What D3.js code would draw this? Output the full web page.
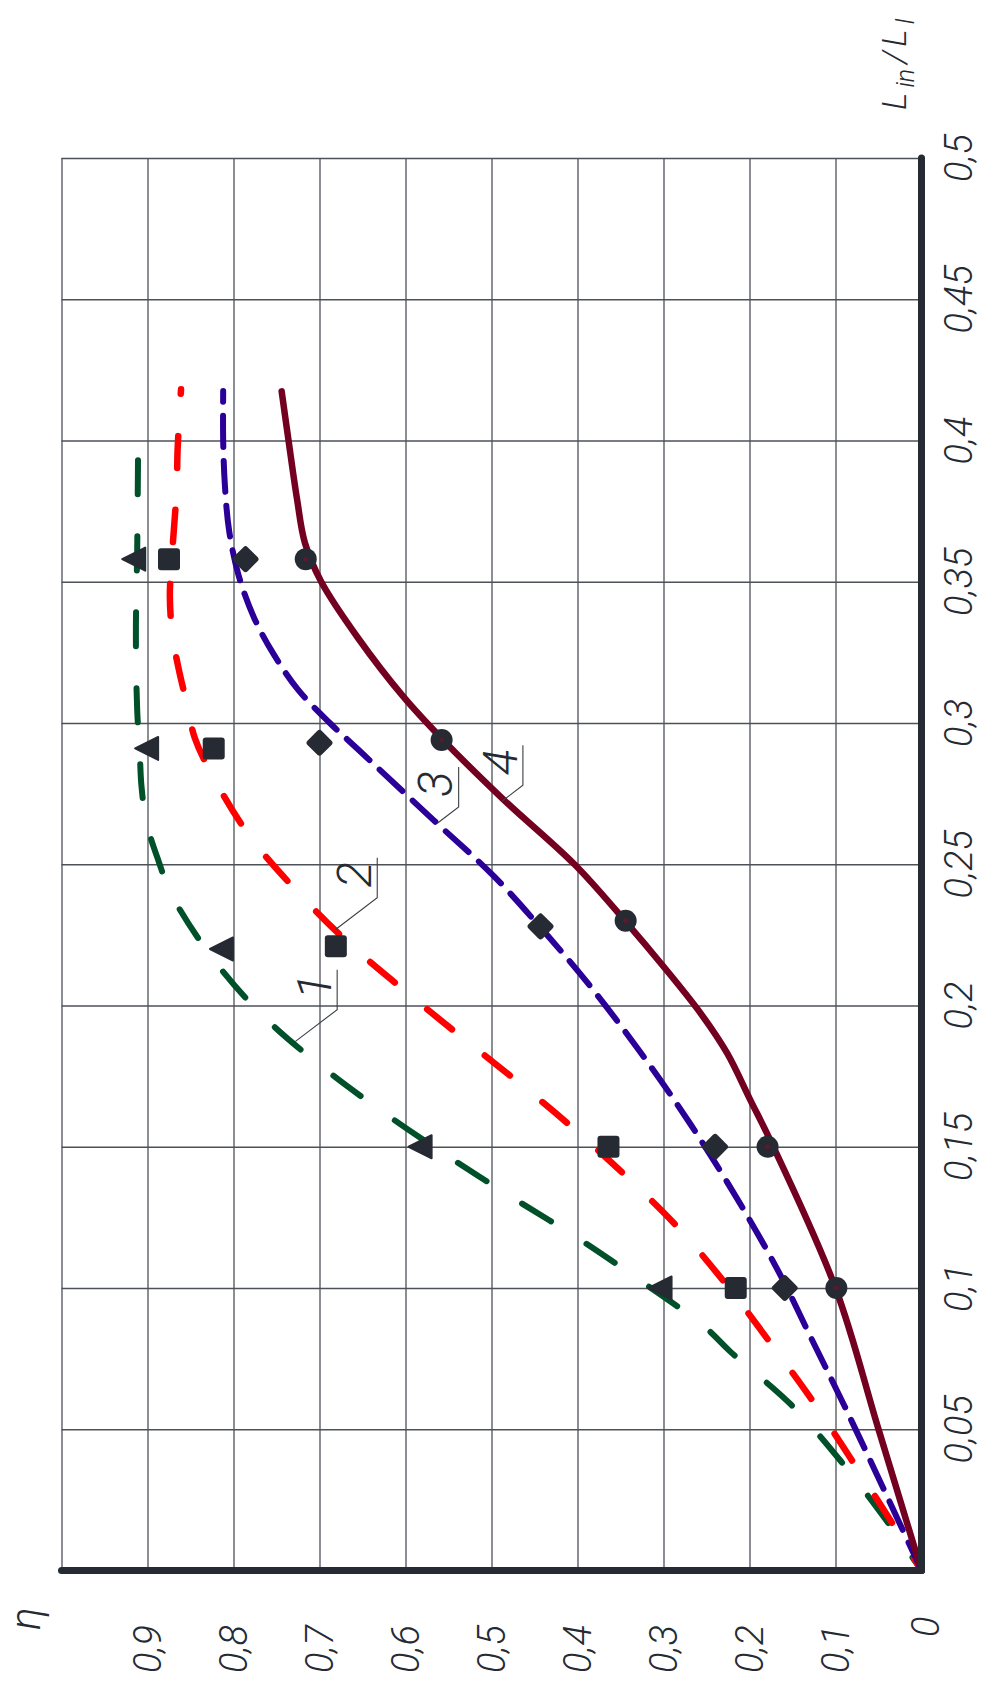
<!DOCTYPE html>
<html>
<head>
<meta charset="utf-8">
<script src="https://cdn.jsdelivr.net/npm/d3@7"></script>
<style>
  body { margin: 0; background: #fff; }
  svg text { font-family: Roboto, "DejaVu Sans", sans-serif; font-style: italic; font-weight: 300; fill: #252a33; }
</style>
</head>
<body>
<div id="grafico"></div>
<script>
// ---- datos ----
const lTicks = [0.05, 0.1, 0.15, 0.2, 0.25, 0.3, 0.35, 0.4, 0.45, 0.5];
const lTickLabels = ["0,05", "0,1", "0,15", "0,2", "0,25", "0,3", "0,35", "0,4", "0,45", "0,5"];
const etaTicks = [0.1, 0.2, 0.3, 0.4, 0.5, 0.6, 0.7, 0.8, 0.9, 1.0];
const etaTickLabels = ["0,1", "0,2", "0,3", "0,4", "0,5", "0,6", "0,7", "0,8", "0,9"];

// curva 1 (verde, triangulos)
const c1L   = [0, 0.0165, 0.0384, 0.0585, 0.0774, 0.0862, 0.1022, 0.1175, 0.1317, 0.1465, 0.1618, 0.1778, 0.1955, 0.2162, 0.2392, 0.251, 0.2646, 0.2776, 0.2894, 0.3047, 0.3319, 0.3608, 0.3945];
const c1Eta = [0, 0.038, 0.093, 0.151, 0.222, 0.252, 0.325, 0.399, 0.474, 0.55, 0.624, 0.695, 0.763, 0.823, 0.872, 0.887, 0.901, 0.907, 0.909, 0.912, 0.9135, 0.912, 0.911];
// curva 2 (roja, cuadrados)
const c2L   = [0, 0.0177, 0.039, 0.0602, 0.0815, 0.1016, 0.1217, 0.14, 0.1571, 0.1736, 0.1896, 0.2055, 0.2221, 0.2404, 0.2599, 0.2817, 0.2947, 0.3065, 0.3195, 0.3313, 0.3449, 0.3614, 0.3833, 0.3969, 0.4181];
const c2Eta = [0, 0.036, 0.081, 0.127, 0.178, 0.228, 0.284, 0.345, 0.407, 0.472, 0.538, 0.602, 0.666, 0.726, 0.781, 0.825, 0.845, 0.854, 0.864, 0.871, 0.874, 0.871, 0.866, 0.865, 0.861];
// curva 3 (azul, rombos)
const c3L   = [0, 0.0295, 0.0585, 0.0827, 0.1051, 0.1299, 0.1577, 0.1831, 0.2079, 0.2276, 0.2457, 0.2658, 0.2906, 0.300, 0.3118, 0.3242, 0.3372, 0.3522, 0.3679, 0.3841, 0.40, 0.4175];
const c3Eta = [0, 0.045, 0.09, 0.129, 0.165, 0.211, 0.268, 0.326, 0.388, 0.443, 0.497, 0.568, 0.655, 0.688, 0.725, 0.753, 0.776, 0.794, 0.805, 0.810, 0.812, 0.812];
// curva 4 (granate, circulos)
const c4L   = [0, 0.05, 0.1, 0.1524, 0.1665, 0.1831, 0.1973, 0.2138, 0.2297, 0.2498, 0.2729, 0.2939, 0.3095, 0.33, 0.35, 0.3638, 0.379, 0.4, 0.4174];
const c4Eta = [0, 0.05, 0.1, 0.176, 0.199, 0.226, 0.257, 0.300, 0.344, 0.403, 0.486, 0.556, 0.603, 0.655, 0.698, 0.717, 0.726, 0.736, 0.744];

// puntos experimentales
const p1L = [0.1, 0.15, 0.22, 0.291, 0.358],  p1Eta = [0.304, 0.583, 0.814, 0.901, 0.916];
const p2L = [0.1, 0.15, 0.221, 0.291, 0.358], p2Eta = [0.216, 0.364, 0.681, 0.823, 0.875];
const p3L = [0.1, 0.15, 0.228, 0.293, 0.358], p3Eta = [0.159, 0.240, 0.443, 0.700, 0.786];
const p4L = [0.1, 0.15, 0.23, 0.294, 0.358],  p4Eta = [0.099, 0.179, 0.344, 0.558, 0.716];

// etiquetas de curvas (punto de la curva donde arranca la linea guia)
const etiquetas = ["1", "2", "3", "4"];
const etiqL   = [0.1872, 0.2268, 0.2646, 0.2723];
const etiqEta = [0.7283, 0.6817, 0.5626, 0.4879];

// ---- grafico ----
const width = 986;
const height = 1686;
const colAxis = "#252a33";
const colGrid = "#4d5158";

const xEta = d3.scaleLinear().domain([0, 1]).range([921.5, 61.5]);
const yL = d3.scaleLinear().domain([0, 0.5]).range([1570.5, 158]);

const svg = d3.select("#grafico")
  .append("svg")
  .attr("width", width)
  .attr("height", height)
  .style("background", "#fff");

// rejilla
const gx = svg.append("g")
  .attr("transform", `translate(0,${yL(0)})`)
  .call(d3.axisBottom(xEta).tickValues(etaTicks).tickSize(-(yL(0) - yL(0.5))).tickFormat(""));
gx.select(".domain").remove();
gx.selectAll("line").attr("stroke", colGrid).attr("stroke-width", 1.3);

const gy = svg.append("g")
  .attr("transform", `translate(${xEta(0)},0)`)
  .call(d3.axisRight(yL).tickValues(lTicks).tickSize(-(xEta(0) - xEta(1))).tickFormat(""));
gy.select(".domain").remove();
gy.selectAll("line").attr("stroke", colGrid).attr("stroke-width", 1.3);

// curvas
const linea = d3.line()
  .x(d => xEta(d[1]))
  .y(d => yL(d[0]))
  .curve(d3.curveCatmullRom.alpha(0.5));

const curvas = [
  { L: c1L, E: c1Eta, color: "#00502a", w: 6,   dash: "34,42", off: 18 },
  { L: c2L, E: c2Eta, color: "#ff0000", w: 6.5, dash: "32,42", off: 18 },
  { L: c3L, E: c3Eta, color: "#2a0099", w: 6,   dash: "31,14", off: 0 },
  { L: c4L, E: c4Eta, color: "#730020", w: 6.5, dash: null,    off: 0 }
];

curvas.forEach(c => {
  svg.append("path")
    .datum(c.L.map((l, i) => [l, c.E[i]]))
    .attr("d", linea)
    .attr("fill", "none")
    .attr("stroke", c.color)
    .attr("stroke-width", c.w)
    .attr("stroke-linecap", "round")
    .attr("stroke-dasharray", c.dash)
    .attr("stroke-dashoffset", c.off);
});

// ejes gruesos
svg.append("line")
  .attr("x1", xEta(1)).attr("x2", xEta(0))
  .attr("y1", yL(0)).attr("y2", yL(0))
  .attr("stroke", colAxis).attr("stroke-width", 7).attr("stroke-linecap", "round");
svg.append("line")
  .attr("x1", xEta(0)).attr("x2", xEta(0))
  .attr("y1", yL(0)).attr("y2", yL(0.5))
  .attr("stroke", colAxis).attr("stroke-width", 7).attr("stroke-linecap", "round");

// marcadores
const mk = colAxis;
svg.append("g").selectAll("path")
  .data(p1L.map((l, i) => [l, p1Eta[i]]))
  .enter().append("path")
  .attr("d", "M-11.5,0L11.5,-11.5L11.5,11.5Z")
  .attr("transform", d => `translate(${xEta(d[1])},${yL(d[0])})`)
  .attr("fill", mk).attr("stroke", mk).attr("stroke-width", 2).attr("stroke-linejoin", "round");

svg.append("g").selectAll("rect")
  .data(p2L.map((l, i) => [l, p2Eta[i]]))
  .enter().append("rect")
  .attr("x", d => xEta(d[1]) - 11).attr("y", d => yL(d[0]) - 11)
  .attr("width", 22).attr("height", 22).attr("rx", 3)
  .attr("fill", mk);

svg.append("g").selectAll("rect")
  .data(p3L.map((l, i) => [l, p3Eta[i]]))
  .enter().append("rect")
  .attr("x", -10).attr("y", -10)
  .attr("width", 20).attr("height", 20).attr("rx", 3)
  .attr("transform", d => `translate(${xEta(d[1])},${yL(d[0])}) rotate(45)`)
  .attr("fill", mk);

const g4 = svg.append("g").selectAll("g")
  .data(p4L.map((l, i) => [l, p4Eta[i]]))
  .enter().append("g")
  .attr("transform", d => `translate(${xEta(d[1])},${yL(d[0])})`);
g4.append("circle").attr("r", 11).attr("fill", mk);
g4.append("circle").attr("r", 2.5).attr("fill", "#5a1a2c");

// etiquetas de curvas con linea guia
const guia = [[42, -32], [42, -32], [21, -16], [21, -16]];
etiquetas.forEach((t, i) => {
  const x0 = xEta(etiqEta[i]), y0 = yL(etiqL[i]);
  const x1 = x0 + guia[i][0], y1 = y0 + guia[i][1];
  const y2 = y1 - 40;
  svg.append("path")
    .attr("d", `M${x0},${y0}L${x1},${y1}L${x1},${y2}`)
    .attr("fill", "none").attr("stroke", "#3a3e45").attr("stroke-width", 1.1);
  svg.append("text")
    .attr("transform", `translate(${x1 - 23},${y2 + 17}) rotate(-90)`)
    .attr("text-anchor", "middle")
    .attr("dy", "0.35em")
    .style("font-size", "48px")
    .text(t);
});

// textos de ejes
svg.append("g").selectAll("text")
  .data(lTicks)
  .enter().append("text")
  .attr("transform", d => `translate(${xEta(0) + 37.5},${yL(d)}) rotate(-90)`)
  .attr("text-anchor", "middle")
  .attr("dy", "0.35em")
  .style("font-size", "38px")
  .text((d, i) => lTickLabels[i]);

svg.append("g").selectAll("text")
  .data(etaTickLabels)
  .enter().append("text")
  .attr("transform", (d, i) => `translate(${xEta(etaTicks[i])},1673) rotate(-90)`)
  .attr("text-anchor", "start")
  .attr("dy", "0.35em")
  .style("font-size", "38px")
  .text(d => d);

svg.append("text")
  .attr("transform", `translate(${xEta(0) + 4.5},1637) rotate(-90)`)
  .attr("dy", "0.35em")
  .style("font-size", "38px")
  .text("0");

svg.append("text")
  .attr("transform", "translate(40,1630) rotate(-90)")
  .style("font-size", "42px")
  .text("η");

const tit = svg.append("text")
  .attr("transform", "translate(906,110) rotate(-90)")
  .style("font-size", "34px");
tit.append("tspan").text("L");
tit.append("tspan").attr("dx", 5).attr("dy", 8).style("font-size", "25px").text("in");
tit.append("tspan").attr("dx", 5).attr("dy", -8).text("/");
tit.append("tspan").attr("dx", 4).text("L");
tit.append("tspan").attr("dx", 5).attr("dy", 8).style("font-size", "25px").text("l");
</script>
</body>
</html>
